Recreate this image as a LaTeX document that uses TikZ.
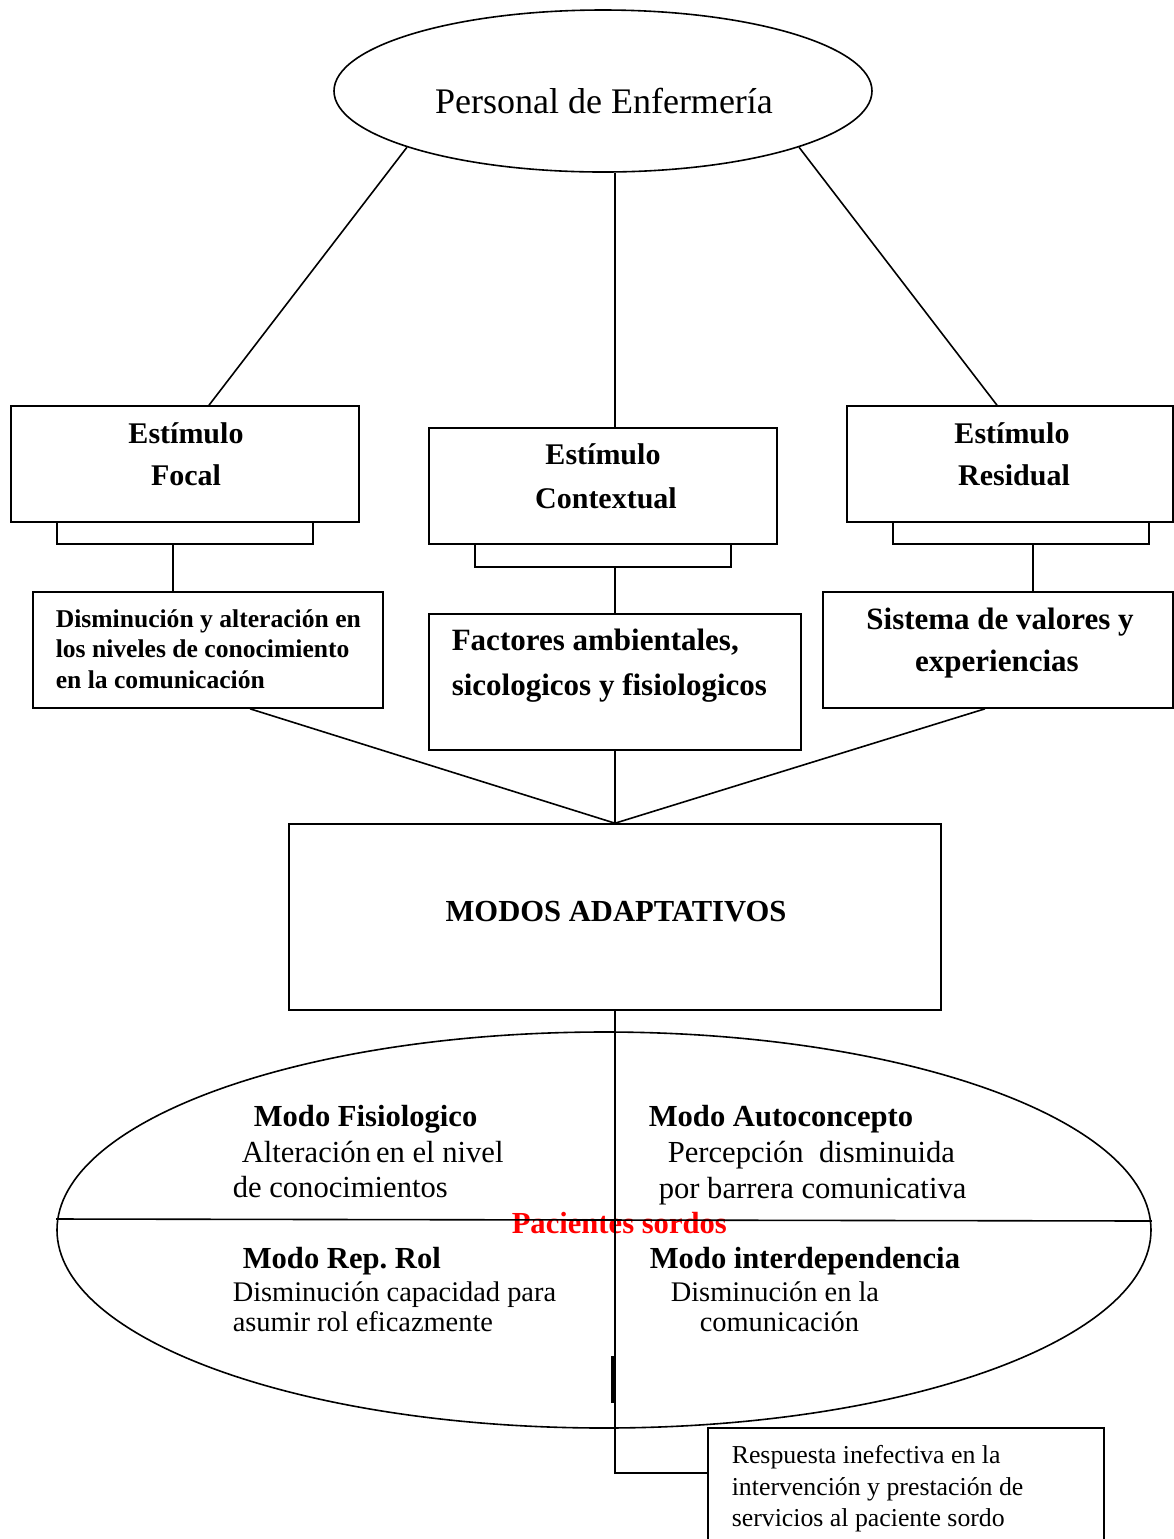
\documentclass[tikz,border=0pt]{standalone}
\usepackage{fontspec}
\setmainfont{Liberation Serif}
\usetikzlibrary{shapes.geometric}

\begin{document}
\begin{tikzpicture}[x=0.5pt,y=-0.5pt,line width=0.8pt,
        every node/.style={inner sep=0pt},
        caja/.style={draw,rectangle},
        titulo/.style={font=\fontsize{15}{18}\selectfont\bfseries,anchor=base},
        factor/.style={font=\fontsize{15.5}{18}\selectfont\bfseries},
        modotit/.style={font=\fontsize{15.3}{18}\selectfont\bfseries,anchor=base west},
        modotxt/.style={font=\fontsize{15.3}{18}\selectfont,anchor=base west},
        modobaj/.style={font=\fontsize{14.2}{17}\selectfont,anchor=base west}]
    \useasboundingbox (0,0) rectangle (1174,1539);

    % personal de enfermeria
    \node[draw,ellipse,minimum width=269pt,minimum height=81pt] (per) at (603,91) {};
    \node[font=\fontsize{18}{22}\selectfont,anchor=base] (perT) at (604,113) {Personal de Enfermería};

    % estimulos
    \node[caja,minimum width=174pt,minimum height=58pt] (focal) at (185,464) {};
    \node[caja,minimum width=128pt,minimum height=11pt] (focalTab) at (185,533) {};
    \node[titulo] (focalA) at (186,443) {Estímulo};
    \node[titulo] (focalB) at (186,485) {Focal};

    \node[caja,minimum width=174pt,minimum height=58pt] (ctx) at (603,486) {};
    \node[caja,minimum width=128pt,minimum height=11.5pt] (ctxTab) at (603,555.5) {};
    \node[titulo] (ctxA) at (603,464) {Estímulo};
    \node[titulo] (ctxB) at (606,508) {Contextual};

    \node[caja,minimum width=163pt,minimum height=58pt] (res) at (1010,464) {};
    \node[caja,minimum width=128pt,minimum height=11pt] (resTab) at (1021,533) {};
    \node[titulo] (resA) at (1012,443) {Estímulo};
    \node[titulo] (resB) at (1014,485) {Residual};

    % factores
    \node[caja,minimum width=175pt,minimum height=58pt] (dism) at (208,650) {};
    \node[font=\fontsize{12.8}{15}\selectfont\bfseries,anchor=base west] (dismA) at (55,627) {Disminución y alteración en};
    \node[font=\fontsize{12.8}{15}\selectfont\bfseries,anchor=base west] (dismB) at (55,657) {los niveles de conocimiento};
    \node[font=\fontsize{12.8}{15}\selectfont\bfseries,anchor=base west] (dismC) at (55,688) {en la comunicación};

    \node[caja,minimum width=186pt,minimum height=68pt] (fact) at (615,682) {};
    \node[factor,anchor=base west] (factA) at (451,650) {Factores ambientales,};
    \node[factor,anchor=base west] (factB) at (451,695) {sicologicos y fisiologicos};

    \node[caja,minimum width=175pt,minimum height=58pt] (sis) at (998,650) {};
    \node[factor,anchor=base] (sisA) at (1000,629) {Sistema de valores y};
    \node[factor,anchor=base] (sisB) at (997,671) {experiencias};

    % modos
    \node[caja,minimum width=326pt,minimum height=93pt] (modos) at (615,917) {};
    \node[font=\fontsize{15.3}{18}\selectfont\bfseries,anchor=base] (modosT) at (616,921) {MODOS ADAPTATIVOS};

    \node[draw,ellipse,minimum width=547pt,minimum height=198pt] (modo) at (604,1230) {};
    \node[modotit] (fisA) at (253,1126) {Modo Fisiologico};
    \node[modotxt] (fisB) at (241,1162) {Alteración\,en el nivel};
    \node[modotxt] (fisC) at (232,1197) {de conocimientos};
    \node[modotit] (autA) at (648,1126) {Modo Autoconcepto};
    \node[modotxt] (autB) at (667,1162) {Percepción\ \ disminuida};
    \node[modotxt] (autC) at (658,1198) {por barrera comunicativa};
    \node[modotit,text=red] (pac) at (511,1233) {Pacientes sordos};
    \node[modotit] (rolA) at (242,1268) {Modo Rep.\ Rol};
    \node[modobaj] (rolB) at (232,1301) {Disminución capacidad para};
    \node[modobaj] (rolC) at (232,1331) {asumir rol eficazmente};
    \node[modotit] (intA) at (649,1268) {Modo interdependencia};
    \node[modobaj] (intB) at (670,1301) {Disminución en la};
    \node[modobaj] (intC) at (699,1331) {comunicación};

    % respuesta
    \node[caja,minimum width=198pt,minimum height=66pt] (resp) at (906,1494) {};
    \node[font=\fontsize{12.9}{15}\selectfont,anchor=base west] (respA) at (731,1463) {Respuesta inefectiva en la};
    \node[font=\fontsize{12.9}{15}\selectfont,anchor=base west] (respB) at (731,1495) {intervención y prestación de};
    \node[font=\fontsize{12.9}{15}\selectfont,anchor=base west] (respC) at (731,1526) {servicios al paciente sordo};

    \coordinate (fA) at (173,0);
    \coordinate (rA) at (1033,0);
    \coordinate (codo) at (615,1473);

    \draw (per.196) -- ([xshift=12pt]focal.north);
    \draw ([xshift=6pt]per.south) -- ([xshift=6pt]ctx.north);
    \draw (per.344) -- ([xshift=-6.5pt]res.north);

    \draw (focalTab.south -| fA) -- (dism.north -| fA);
    \draw (ctxTab.south -| fact.north) -- (fact.north);
    \draw (resTab.south -| rA) -- (sis.north -| rA);

    \draw ([xshift=21pt]dism.south) -- (modos.north);
    \draw (fact.south) -- (modos.north);
    \draw ([xshift=-6.5pt]sis.south) -- (modos.north);

    \draw ([yshift=5.5pt]modo.west) -- ([yshift=4.5pt]modo.east);
    \draw (modos.south) -- (codo) -- (codo -| resp.west);
    \draw[line width=1.1pt] (612.5,1356) -- (612.5,1403);
\end{tikzpicture}
\end{document}
